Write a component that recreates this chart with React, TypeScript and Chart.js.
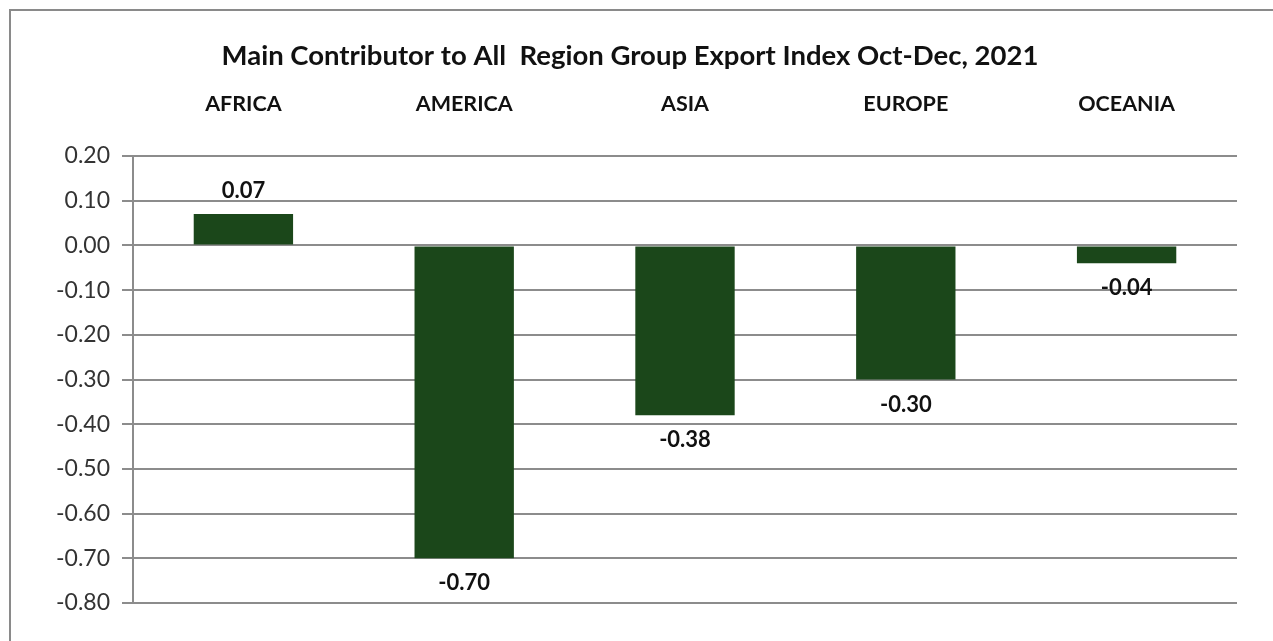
import React, { useEffect, useRef } from "react";
import { Chart, registerables } from "chart.js";

Chart.register(...registerables);

const titleText = "Main Contributor to All  Region Group Export Index Oct-Dec, 2021";
const categories = ["AFRICA", "AMERICA", "ASIA", "EUROPE", "OCEANIA"];
const values = [0.07, -0.7, -0.38, -0.3, -0.04];
const yMin = -0.8;
const yMax = 0.2;
const yStep = 0.1;

const FONT = "Lato, 'Open Sans', sans-serif";

const labelPlugin = {
  id: "barLabels",
  afterDatasetsDraw(chart: any) {
    const ctx = chart.ctx;
    const meta = chart.getDatasetMeta(0);
    ctx.save();
    ctx.font = `bold 22px ${FONT}`;
    ctx.fillStyle = "#111111";
    ctx.textAlign = "center";
    ctx.textBaseline = "middle";
    meta.data.forEach((el: any, i: number) => {
      const v = values[i];
      const y = v >= 0 ? el.y - 23 : el.y + 25;
      ctx.fillText(v.toFixed(2), el.x, y);
    });
    ctx.restore();
  },
};

const titlePlugin = {
  id: "customTitle",
  afterDraw(chart: any) {
    const ctx = chart.ctx;
    ctx.save();
    ctx.font = `bold 27.5px ${FONT}`;
    ctx.fillStyle = "#111111";
    ctx.textAlign = "center";
    ctx.textBaseline = "middle";
    ctx.fillText(titleText, 630, 56);
    ctx.restore();
  },
};

export default function App() {
  const ref = useRef<HTMLCanvasElement>(null);
  useEffect(() => {
    if (!ref.current) return;
    const chart = new Chart(ref.current, {
      type: "bar",
      data: {
        labels: categories,
        datasets: [
          {
            data: values,
            backgroundColor: "#1b471a",
            borderWidth: 0,
            barPercentage: 0.45,
            categoryPercentage: 1,
          },
        ],
      },
      plugins: [labelPlugin, titlePlugin],
      options: {
        animation: false,
        responsive: true,
        maintainAspectRatio: false,
        layout: { padding: { top: 80, left: 0, right: 36, bottom: 38 } },
        plugins: { legend: { display: false }, tooltip: { enabled: false }, title: { display: false } },
        scales: {
          x: {
            position: "top",
            grid: { display: false, drawTicks: false },
            border: { display: false },
            ticks: {
              font: { family: FONT, size: 21.5, weight: "bold" },
              color: "#111111",
              padding: 39,
              maxRotation: 0,
            },
            afterFit(scale: any) {
              scale.height = 76;
            },
          },
          y: {
            min: yMin,
            max: yMax,
            grid: { color: "#8c8c8c", lineWidth: 2, tickLength: 11 },
            border: { display: true, color: "#8c8c8c", width: 2 },
            ticks: {
              stepSize: yStep,
              font: { family: FONT, size: 23 },
              color: "#333333",
              padding: 12,
              callback: (v: any) => Number(v).toFixed(2),
            },
            afterFit(scale: any) {
              scale.width = 133;
            },
          },
        },
      },
    });
    return () => chart.destroy();
  }, []);

  return (
    <div style={{ position: "fixed", left: 0, top: 0, width: 1273, height: 641, background: "#fff", overflow: "hidden" }}>
      <div
        style={{
          position: "absolute",
          left: 9,
          top: 9,
          width: 1320,
          height: 720,
          border: "2px solid #8a8a8a",
        }}
      />
      <div style={{ position: "absolute", left: 0, top: 0, width: 1273, height: 641 }}>
        <canvas ref={ref} />
      </div>
    </div>
  );
}
